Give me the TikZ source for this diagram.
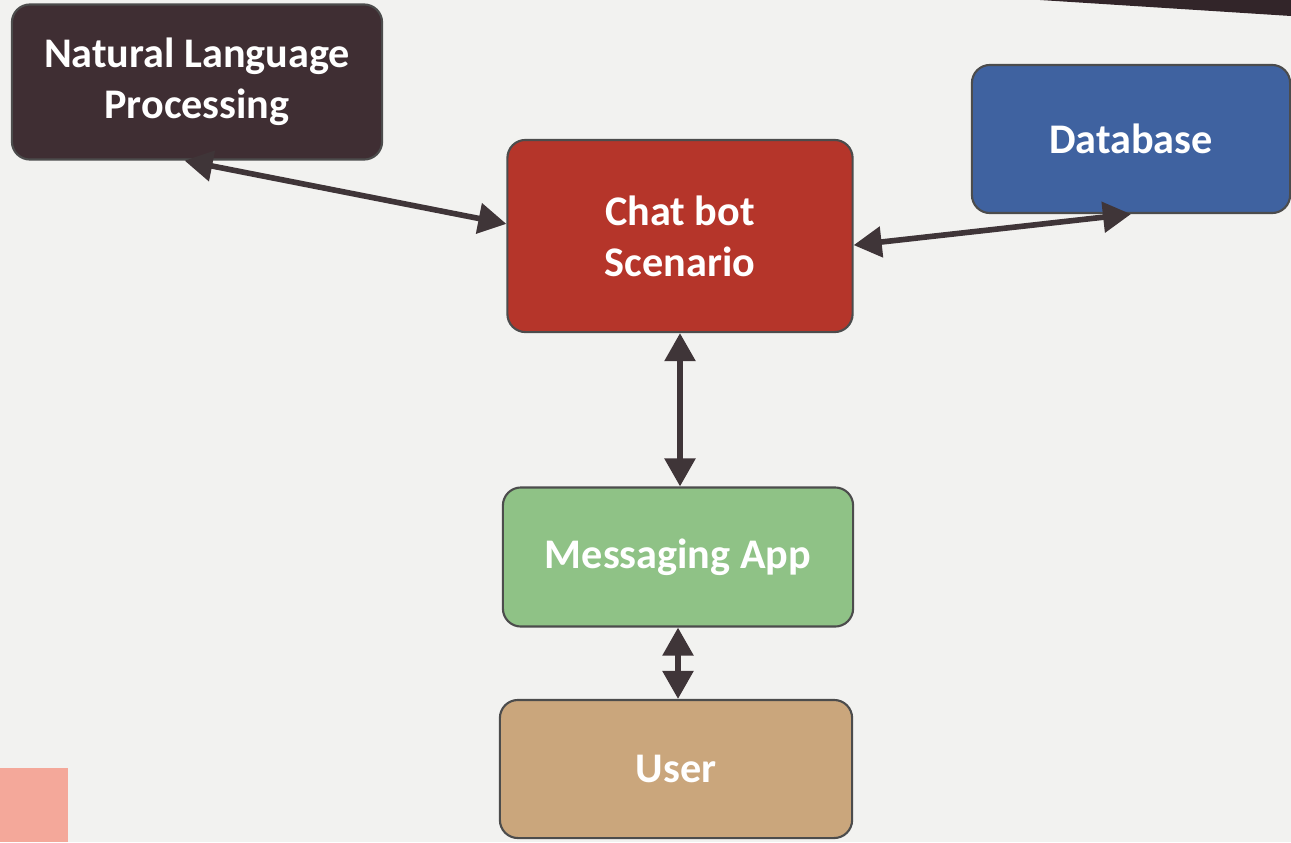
\documentclass[tikz,border=0pt]{standalone}
\usepackage{fontspec}
\setmainfont{Carlito}
\usetikzlibrary{arrows.meta}
\definecolor{nlpcol}{HTML}{3F2E33}
\definecolor{dbcol}{HTML}{3F62A0}
\definecolor{botcol}{HTML}{B5352A}
\definecolor{appcol}{HTML}{8FC286}
\definecolor{usercol}{HTML}{CAA67C}
\definecolor{linkcol}{HTML}{3F3538}
\definecolor{slide}{HTML}{F2F2F0}
\definecolor{pinkcol}{HTML}{F4A89A}
\tikzset{>={Triangle[length=0.28cm,width=0.3cm]}}
\tikzset{box/.style={rounded corners=0.18cm,draw=black!70,line width=0.6pt,
    text=white,font=\fontsize{12}{14.5}\selectfont\bfseries,align=center,inner sep=0pt}}
\tikzset{link/.style={<->,line width=1.6pt,linkcol}}

\begin{document}
\begin{tikzpicture}[x=0.01cm,y=-0.01cm]
    \fill[slide] (0,0) rectangle (1291,842);
    \useasboundingbox (0,0) rectangle (1291,842);
      \fill[nlpcol!80!black] (1040,0)--(1291,0)--(1291,16)--cycle;
      \fill[pinkcol] (0,768) rectangle (68,842);
      \node[box,fill=nlpcol,minimum width=3.7cm,minimum height=1.55cm] (nlp) at (197,82) {Natural Language\\Processing};
      \node[box,fill=dbcol,minimum width=3.18cm,minimum height=1.48cm] (db) at (1131,139) {Database};
      \node[box,fill=botcol,minimum width=3.45cm,minimum height=1.92cm] (bot) at (680,236) {Chat bot\\Scenario};
      \node[box,fill=appcol,minimum width=3.5cm,minimum height=1.39cm] (app) at (678,557) {Messaging App};
      \node[box,fill=usercol,minimum width=3.52cm,minimum height=1.38cm] (user) at (676,769) {User};
      \draw[link](nlp.261)--(bot.176) ;
      \draw[link](db.south)--(bot.-3) ;
      \draw[link](bot.south)--(bot.south|-app.north) ;
      \draw[link](app.south)--(app.south|-user.north) ;
     \end{tikzpicture}
\end{document}
